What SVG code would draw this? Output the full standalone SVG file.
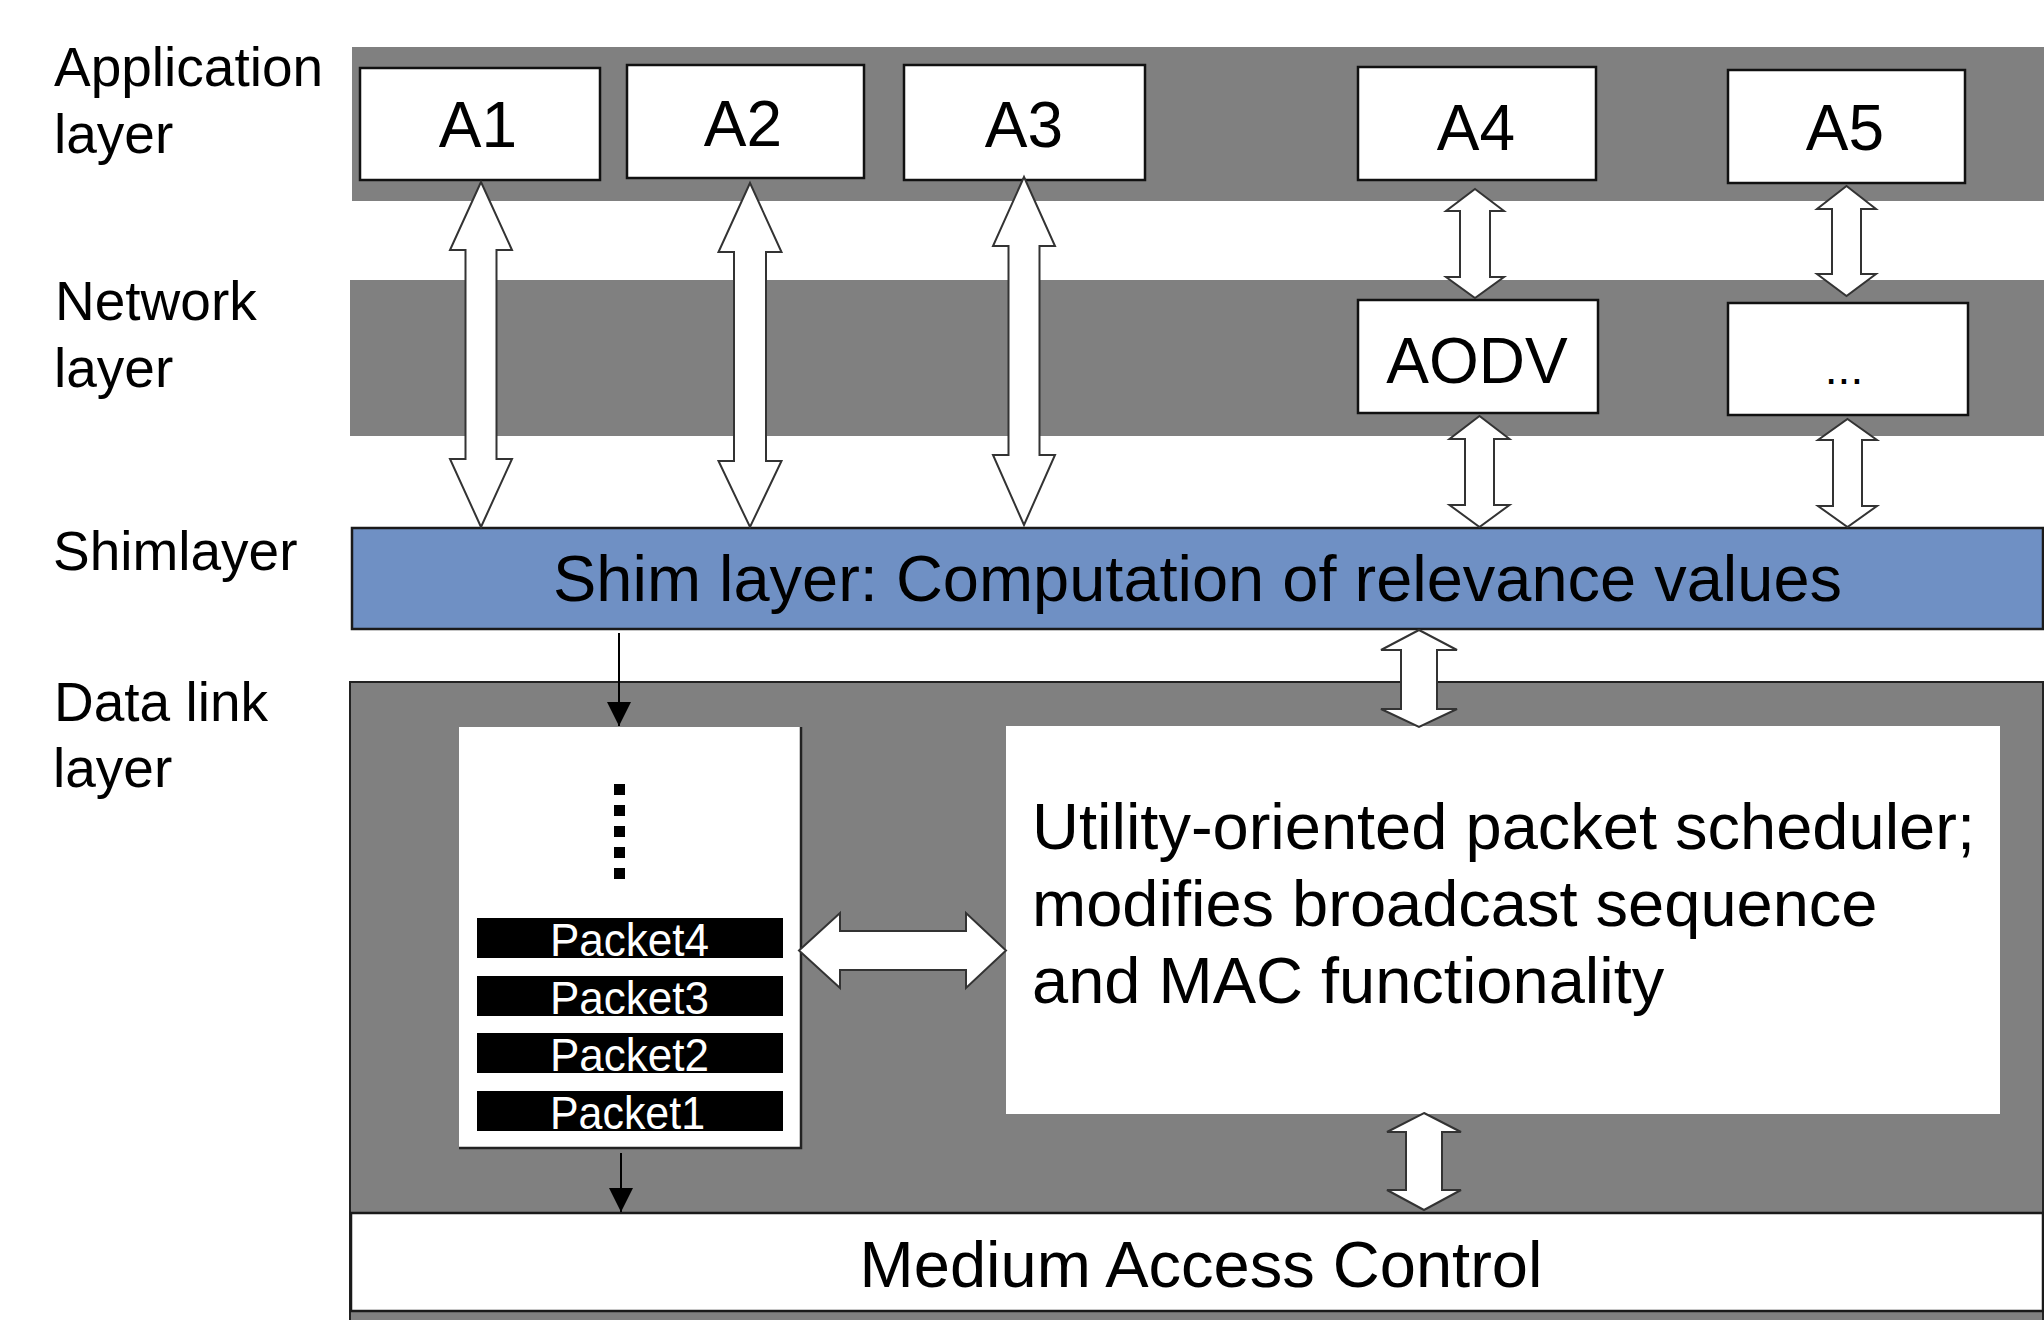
<svg xmlns="http://www.w3.org/2000/svg" width="2044" height="1320" viewBox="0 0 2044 1320">
<defs>
<style>
text{font-family:"Liberation Sans",Arial,sans-serif;fill:#000}
.band{fill:#808080}
.box{fill:#fff;stroke:#111;stroke-width:2.5}
.lbl{font-size:55px}
.big{font-size:64px;text-anchor:middle}
.t65{font-size:65px}
.pk{fill:#000}
.pkt{font-size:46px;fill:#fff}
.dbl{fill:#fff;stroke:#333;stroke-width:2;stroke-linejoin:miter}
.thin{stroke:#000;stroke-width:2;fill:none}
</style>
<marker id="ah" markerWidth="26" markerHeight="24" refX="24" refY="12" orient="auto" markerUnits="userSpaceOnUse">
<path d="M0,0 L24,12 L0,24 Z" fill="#000"/>
</marker>
</defs>
<rect width="2044" height="1320" fill="#fff"/>

<g id="labels">
<text class="lbl" x="54" y="86">Application</text>
<text class="lbl" x="54" y="153">layer</text>
<text class="lbl" x="55" y="320">Network</text>
<text class="lbl" x="54" y="387">layer</text>
<text class="lbl" x="53" y="570">Shimlayer</text>
<text class="lbl" x="54" y="721">Data link</text>
<text class="lbl" x="53" y="787">layer</text>
</g>

<g id="application-layer"><rect class="band" x="352" y="47" width="1692" height="154"/></g>
<g id="network-layer"><rect class="band" x="350" y="280" width="1694" height="156"/></g>
<g id="datalink-layer"><rect x="350" y="682" width="1693" height="640" fill="#808080" stroke="#222" stroke-width="2"/></g>

<g id="A1"><rect class="box" x="360" y="68" width="240" height="112"/><text class="big" x="478" y="147">A1</text></g>
<g id="A2"><rect class="box" x="627" y="65" width="237" height="113"/><text class="big" x="743" y="146">A2</text></g>
<g id="A3"><rect class="box" x="904" y="65" width="241" height="115"/><text class="big" x="1024" y="147">A3</text></g>
<g id="A4"><rect class="box" x="1358" y="67" width="238" height="113"/><text class="big" x="1476" y="150">A4</text></g>
<g id="A5"><rect class="box" x="1728" y="70" width="237" height="113"/><text class="big" x="1845" y="150">A5</text></g>
<g id="AODV"><rect class="box" x="1358" y="300" width="240" height="113"/><text class="big" x="1477" y="383">AODV</text></g>
<g id="other-routing"><rect class="box" x="1728" y="303" width="240" height="112"/><text class="big" x="1844" y="384" style="font-size:46px">...</text></g>

<g id="shim"><rect x="352" y="528" width="1691" height="101" fill="#6f90c4" stroke="#1a1a1a" stroke-width="2.5"/>
<text class="t65" x="553" y="601" textLength="1289" lengthAdjust="spacingAndGlyphs">Shim layer: Computation of relevance values</text></g>

<g id="queue">
<rect x="459" y="727" width="342" height="421" fill="#fff"/>
<path d="M801,727 V1148 H459" fill="none" stroke="#222" stroke-width="2.5"/>
<g fill="#000">
<rect x="614" y="784" width="11" height="11"/>
<rect x="614" y="805" width="11" height="11"/>
<rect x="614" y="826" width="11" height="11"/>
<rect x="614" y="847" width="11" height="11"/>
<rect x="614" y="868" width="11" height="11"/>
</g>
<rect class="pk" x="477" y="918" width="306" height="40"/><text class="pkt" x="550" y="956" textLength="159" lengthAdjust="spacingAndGlyphs">Packet4</text>
<rect class="pk" x="477" y="976" width="306" height="40"/><text class="pkt" x="550" y="1014" textLength="159" lengthAdjust="spacingAndGlyphs">Packet3</text>
<rect class="pk" x="477" y="1033" width="306" height="40"/><text class="pkt" x="550" y="1071" textLength="159" lengthAdjust="spacingAndGlyphs">Packet2</text>
<rect class="pk" x="477" y="1091" width="306" height="40"/><text class="pkt" x="550" y="1129" textLength="155" lengthAdjust="spacingAndGlyphs">Packet1</text>
</g>

<g id="scheduler"><rect x="1006" y="726" width="994" height="388" fill="#fff"/>
<text class="t65" x="1032" y="849">Utility-oriented packet scheduler;</text>
<text class="t65" x="1032" y="926">modifies broadcast sequence</text>
<text class="t65" x="1032" y="1003">and MAC functionality</text></g>

<g id="mac"><rect x="351" y="1213" width="1692" height="98" fill="#fff" stroke="#1a1a1a" stroke-width="2.5"/>
<text class="t65" x="1201" y="1287" text-anchor="middle">Medium Access Control</text></g>

<g id="connectors">
<polygon class="dbl" points="481,182 512,250 496.5,250 496.5,459 512,459 481,527 450,459 465.5,459 465.5,250 450,250"/>
<polygon class="dbl" points="750,183 781.5,252 766,252 766,461 781.5,461 750,527 718.5,461 734,461 734,252 718.5,252"/>
<polygon class="dbl" points="1024,177 1055,246 1039.5,246 1039.5,455 1055,455 1024,525 993,455 1008.5,455 1008.5,246 993,246"/>
<polygon class="dbl" points="1475,189 1504,211 1490,211 1490,277 1504,277 1475,298 1446,277 1460,277 1460,211 1446,211"/>
<polygon class="dbl" points="1846.5,186 1876,209 1861,209 1861,274 1876,274 1846.5,296 1817,274 1832,274 1832,209 1817,209"/>
<polygon class="dbl" points="1479.5,416 1509.5,439 1494,439 1494,505 1509.5,505 1479.5,527 1449.5,505 1465,505 1465,439 1449.5,439"/>
<polygon class="dbl" points="1847.5,419 1877,440 1862,440 1862,506 1877,506 1847.5,527 1818,506 1833,506 1833,440 1818,440"/>
<polygon class="dbl" points="1419,630 1457,650 1437,650 1437,709 1457,709 1419,727 1381,709 1401,709 1401,650 1381,650"/>
<polygon class="dbl" points="1424,1113 1461,1132 1442,1132 1442,1190 1461,1190 1424,1210 1387,1190 1406,1190 1406,1132 1387,1132"/>
<polygon class="dbl" points="799,950.5 840,913 840,931 966,931 966,913 1006,950.5 966,988 966,970 840,970 840,988"/>
<line class="thin" x1="619" y1="633" x2="619" y2="726" marker-end="url(#ah)"/>
<line class="thin" x1="621" y1="1153" x2="621" y2="1212" marker-end="url(#ah)"/>
</g>
</svg>
